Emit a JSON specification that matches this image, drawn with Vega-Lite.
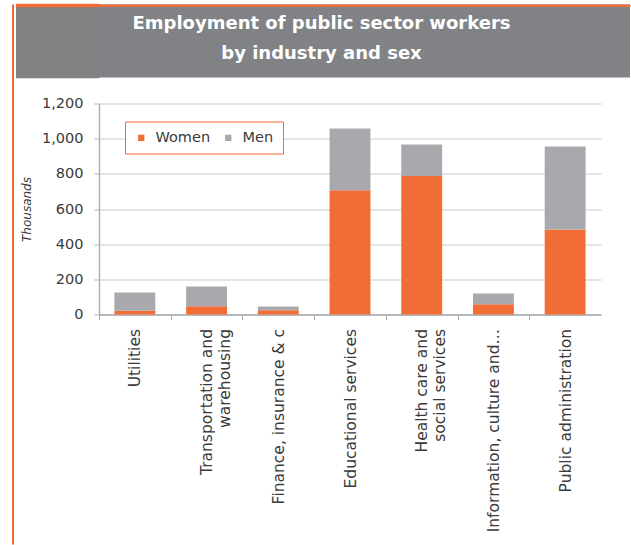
{
  "$schema": "https://vega.github.io/schema/vega-lite/v6.json",
  "background": "white",
  "padding": {"left": 12, "top": 2.5, "right": 0, "bottom": 0},
  "spacing": 0,
  "resolve": {"legend": {"color": "independent"}},
  "config": {"view": {"stroke": null}, "font": "DejaVu Sans"},
  "datasets": {
    "employment": [
      {"industry": "Utilities", "sex": "Women", "value": 22},
      {"industry": "Utilities", "sex": "Men", "value": 103},
      {"industry": "Transportation and warehousing", "sex": "Women", "value": 47},
      {"industry": "Transportation and warehousing", "sex": "Men", "value": 112},
      {"industry": "Finance, insurance & c", "sex": "Women", "value": 24},
      {"industry": "Finance, insurance & c", "sex": "Men", "value": 21},
      {"industry": "Educational services", "sex": "Women", "value": 707},
      {"industry": "Educational services", "sex": "Men", "value": 351},
      {"industry": "Health care and social services", "sex": "Women", "value": 787},
      {"industry": "Health care and social services", "sex": "Men", "value": 180},
      {"industry": "Information, culture and…", "sex": "Women", "value": 59},
      {"industry": "Information, culture and…", "sex": "Men", "value": 60},
      {"industry": "Public administration", "sex": "Women", "value": 483},
      {"industry": "Public administration", "sex": "Men", "value": 473}
    ]
  },
  "hconcat": [
    {
      "width": 2,
      "height": 540,
      "view": {"fill": "#f26d36", "stroke": null},
      "data": {"values": []},
      "mark": {"type": "text", "text": ""},
      "encoding": {}
    },
    {
      "spacing": 0,
      "resolve": {"legend": {"color": "independent"}},
      "vconcat": [
        {
          "width": 531,
          "height": 73,
          "view": {"fill": "#808285", "stroke": null},
          "data": {"values": [{"a": 1}]},
          "layer": [
            {
              "mark": {"type": "rule", "color": "#f26d36", "strokeWidth": 2},
              "encoding": {
                "y": {
                  "datum": 72,
                  "type": "quantitative",
                  "scale": {"domain": [0, 73], "nice": false, "zero": true},
                  "axis": {
                    "title": null,
                    "labels": false,
                    "domain": false,
                    "grid": true,
                    "gridWidth": 2,
                    "gridColor": "#f26d36",
                    "gridOpacity": {"condition": {"test": "datum.value == 72", "value": 1}, "value": 0},
                    "ticks": true,
                    "tickCount": 73,
                    "tickSize": 83.5,
                    "tickWidth": 2.5,
                    "tickCap": "butt",
                    "tickRound": false,
                    "tickOpacity": {"condition": {"test": "datum.value < 0.5", "value": 0}, "value": 1},
                    "tickColor": {"condition": {"test": "datum.value >= 72", "value": "#f26d36"}, "value": "#808285"}
                  }
                }
              }
            },
            {
              "mark": {
                "type": "text",
                "text": ["Employment of public sector workers", "by industry and sex"],
                "color": "white",
                "fontWeight": "bold",
                "fontSize": 18,
                "lineHeight": 29.5,
                "baseline": "middle",
                "align": "center",
                "dx": -43,
                "dy": -17
              },
              "encoding": {}
            }
          ]
        },
        {
          "width": 502,
          "height": 211,
          "title": {"text": " ", "fontSize": 10, "offset": 7},
          "data": {"name": "employment"},
          "mark": {"type": "bar"},
          "encoding": {
            "x": {
              "field": "industry",
              "type": "nominal",
              "sort": null,
              "scale": {"paddingInner": 0.43, "paddingOuter": 0.215},
              "axis": {
                "title": null,
                "labelAngle": -90,
                "labelFontSize": 15.5,
                "labelColor": "#3a3a3a",
                "labelPadding": 9,
                "labelLimit": 400,
                "tickSize": 5,
                "tickColor": "#a7a9ac",
                "tickOffset": -35.86,
                "labelOffset": 35.86,
                "domainColor": "#a7a9ac",
                "domainWidth": 1.5,
                "labelExpr": "datum.value == 'Transportation and warehousing' ? ['Transportation and', 'warehousing'] : datum.value == 'Health care and social services' ? ['Health care and', 'social services'] : datum.value"
              }
            },
            "y": {
              "field": "value",
              "type": "quantitative",
              "stack": "zero",
              "scale": {"domain": [0, 1200]},
              "axis": {
                "title": "Thousands",
                "titleFontStyle": "italic",
                "titleFontWeight": "normal",
                "titleFontSize": 12,
                "titleColor": "#3a3a3a",
                "titlePadding": 8,
                "values": [0, 200, 400, 600, 800, 1000, 1200],
                "format": ",d",
                "labelFontSize": 14.5,
                "labelColor": "#3a3a3a",
                "labelPadding": 11,
                "tickSize": 5,
                "tickColor": "#b0b2b4",
                "domainColor": "#b0b2b4",
                "domainWidth": 1.5,
                "gridColor": "#cbcbcb",
                "gridWidth": 1.2
              }
            },
            "color": {
              "field": "sex",
              "type": "nominal",
              "scale": {"domain": ["Women", "Men"], "range": ["#f26d36", "#a7a9ac"]},
              "legend": {
                "orient": "none",
                "legendX": 26,
                "legendY": 18,
                "direction": "horizontal",
                "title": null,
                "strokeColor": "#f26d36",
                "fillColor": "white",
                "padding": 9,
                "symbolType": "square",
                "symbolSize": 40,
                "symbolStrokeWidth": 0,
                "labelFontSize": 14.5,
                "labelColor": "#3a3a3a",
                "labelOffset": 7,
                "columnPadding": 10
              }
            },
            "order": {"field": "sex", "sort": "descending"}
          }
        }
      ]
    }
  ]
}
